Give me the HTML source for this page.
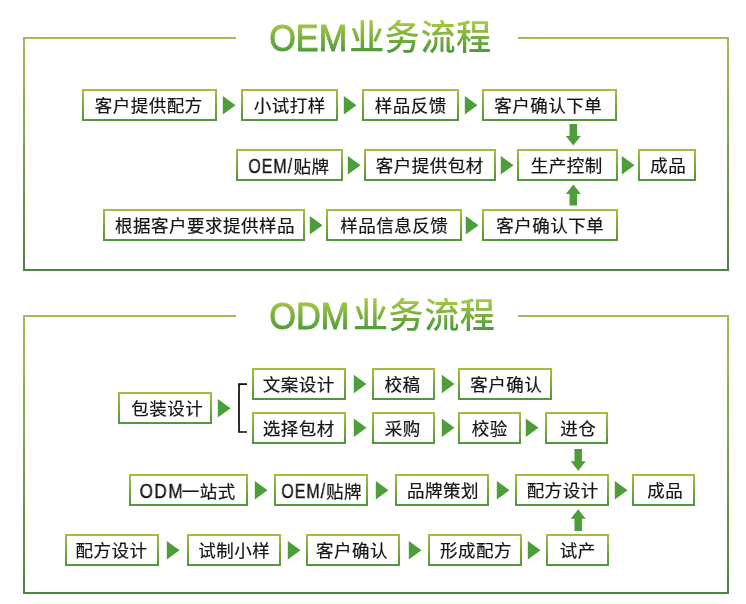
<!DOCTYPE html>
<html lang="zh-CN">
<head>
<meta charset="utf-8">
<title>OEM业务流程 / ODM业务流程</title>
<style>
html,body{margin:0;padding:0;background:#fff;}
.b,svg{will-change:transform;}
body{width:746px;height:604px;position:relative;overflow:hidden;
 font-family:"Liberation Sans","Noto Sans CJK SC",sans-serif;color:#1c1c1c;}
.frame{position:absolute;left:23px;width:706px;box-sizing:border-box;
 border:2px solid;border-image:linear-gradient(to bottom,#a5ba58,#4a8643) 1;}
.gap{position:absolute;background:#fff;left:236px;width:282px;height:6px;}
.b{position:absolute;box-sizing:border-box;height:32px;border:2px solid;
 border-image:linear-gradient(to bottom,#a3be40,#52963d) 1;background:#fff;
 font-size:17.5px;letter-spacing:0.5px;text-indent:0.5px;line-height:30.5px;font-weight:400;-webkit-text-stroke:0.2px #151515;color:#151515;text-align:center;white-space:nowrap;}
.b .s{position:relative;}
.b .l{display:inline-block;font-size:19.5px;line-height:31px;letter-spacing:1.2px;transform:scaleX(0.82);transform-origin:100% 50%;margin-left:-9.8px;-webkit-text-stroke:0.35px #151515;}
.b .l2{letter-spacing:1.7px;transform:scaleX(0.88);margin-left:-6.1px;margin-right:-2.8px;}
svg{position:absolute;left:0;top:0;pointer-events:none;}
svg text{font-family:"Liberation Sans","Noto Sans CJK SC",sans-serif;}
</style>
</head>
<body>
<div class="frame" style="top:37px;height:234px"></div>
<div class="gap" style="top:35px"></div>
<div class="frame" style="top:315px;height:279px"></div>
<div class="gap" style="top:313px"></div>
<!-- OEM section -->
<svg width="746" height="604" viewBox="0 0 746 604"><defs><linearGradient id="tg1" gradientUnits="userSpaceOnUse" x1="0" y1="22" x2="0" y2="52"><stop offset="0" stop-color="#a7c843"/><stop offset="1" stop-color="#4f9a3b"/></linearGradient><linearGradient id="tg2" gradientUnits="userSpaceOnUse" x1="0" y1="300" x2="0" y2="330"><stop offset="0" stop-color="#a7c843"/><stop offset="1" stop-color="#4f9a3b"/></linearGradient></defs><text y="50.5" font-size="35" font-weight="500" letter-spacing="0.6" fill="url(#tg1)"><tspan x="269.2" font-size="37" font-weight="400" letter-spacing="0" textLength="78" lengthAdjust="spacingAndGlyphs" stroke="url(#tg1)" stroke-width="0.9" stroke-linejoin="round">OEM</tspan><tspan x="349.2" dy="-1">业务流程</tspan></text></svg>
<div class="b" style="left:82px;top:89px;width:135px"><span class="s" style="left:-1px">客户提供配方</span></div>
<div class="b" style="left:241px;top:89px;width:97px">小试打样</div>
<div class="b" style="left:362px;top:89px;width:97px">样品反馈</div>
<div class="b" style="left:482px;top:89px;width:135px"><span class="s" style="left:-1.4px">客户确认下单</span></div>
<div class="b" style="left:236px;top:149px;width:107px"><span class="s" style="left:-1px"><span class="l">OEM/</span>贴牌</span></div>
<div class="b" style="left:364px;top:149px;width:132px"><span class="s" style="left:-0.6px">客户提供包材</span></div>
<div class="b" style="left:517px;top:149px;width:101px"><span class="s" style="left:-0.9px">生产控制</span></div>
<div class="b" style="left:638px;top:149px;width:58px"><span class="s" style="left:1px">成品</span></div>
<div class="b" style="left:103px;top:209px;width:202px"><span class="s" style="left:0.7px">根据客户要求提供样品</span></div>
<div class="b" style="left:326px;top:209px;width:136px">样品信息反馈</div>
<div class="b" style="left:482px;top:209px;width:136px">客户确认下单</div>
<!-- ODM section -->
<svg width="746" height="604" viewBox="0 0 746 604"><text y="328.8" font-size="35" font-weight="500" letter-spacing="0.6" fill="url(#tg2)"><tspan x="269.2" font-size="37" font-weight="400" letter-spacing="0" textLength="80.3" lengthAdjust="spacingAndGlyphs" stroke="url(#tg2)" stroke-width="0.9" stroke-linejoin="round">ODM</tspan><tspan x="353" dy="-1">业务流程</tspan></text></svg>
<div class="b" style="left:118px;top:392px;width:94px"><span class="s" style="left:2px">包装设计</span></div>
<div class="b" style="left:252px;top:368px;width:94px"><span class="s" style="left:-0.5px">文案设计</span></div>
<div class="b" style="left:372px;top:368px;width:63px"><span class="s" style="left:-1.3px">校稿</span></div>
<div class="b" style="left:458px;top:368px;width:94px"><span class="s" style="left:1px">客户确认</span></div>
<div class="b" style="left:252px;top:412px;width:94px"><span class="s" style="left:-0.5px">选择包材</span></div>
<div class="b" style="left:372px;top:412px;width:63px"><span class="s" style="left:-0.9px">采购</span></div>
<div class="b" style="left:458px;top:412px;width:63px">校验</div>
<div class="b" style="left:545px;top:412px;width:63px"><span class="s" style="left:1.5px">进仓</span></div>
<div class="b" style="left:129px;top:474px;width:119px"><span class="s" style="left:-1.2px"><span class="l l2">ODM</span>一站式</span></div>
<div class="b" style="left:274px;top:474px;width:94px"><span class="l">OEM/</span>贴牌</div>
<div class="b" style="left:395px;top:474px;width:94px"><span class="s" style="left:0.8px">品牌策划</span></div>
<div class="b" style="left:515px;top:474px;width:94px"><span class="s" style="left:0.6px">配方设计</span></div>
<div class="b" style="left:632px;top:474px;width:63px"><span class="s" style="left:1.6px">成品</span></div>
<div class="b" style="left:65px;top:534px;width:94px"><span class="s" style="left:-0.7px">配方设计</span></div>
<div class="b" style="left:187px;top:534px;width:94px">试制小样</div>
<div class="b" style="left:306px;top:534px;width:94px"><span class="s" style="left:-1.3px">客户确认</span></div>
<div class="b" style="left:428px;top:534px;width:94px"><span class="s" style="left:0.7px">形成配方</span></div>
<div class="b" style="left:546px;top:534px;width:63px">试产</div>
<!-- arrows and connectors -->
<svg width="746" height="604" viewBox="0 0 746 604">
<g fill="#4e9d3b">
<polygon points="569.55,124 577.05,124 577.05,136 580.8,136 573.3,145.5 565.8,136 569.55,136"/>
<polygon points="573.3,184.5 580.8,194 577.05,194 577.05,205.5 569.55,205.5 569.55,194 565.8,194"/>
<polygon points="574.45,449 581.95,449 581.95,461.2 585.7,461.2 578.2,470.7 570.7,461.2 574.45,461.2"/>
<polygon points="578.2,509.3 585.7,518.8 581.95,518.8 581.95,531 574.45,531 574.45,518.8 570.7,518.8"/>
<polygon points="222.8,96 235.5,105.3 222.8,114.6"/>
<polygon points="343.8,96 356.5,105.3 343.8,114.6"/>
<polygon points="464.8,96 477.5,105.3 464.8,114.6"/>
<polygon points="347.8,156 360.5,165.3 347.8,174.6"/>
<polygon points="500.8,156 513.5,165.3 500.8,174.6"/>
<polygon points="621.8,156 634.5,165.3 621.8,174.6"/>
<polygon points="309.8,216 322.5,225.3 309.8,234.6"/>
<polygon points="465.8,216 478.5,225.3 465.8,234.6"/>
<polygon points="217.8,399 230.5,408.3 217.8,417.6"/>
<polygon points="353.8,374.7 366.5,384 353.8,393.3"/>
<polygon points="441.8,374.7 454.5,384 441.8,393.3"/>
<polygon points="353.8,418.4 366.5,427.7 353.8,437"/>
<polygon points="441.8,418.4 454.5,427.7 441.8,437"/>
<polygon points="525.8,418.4 538.5,427.7 525.8,437"/>
<polygon points="254.8,481 267.5,490.3 254.8,499.6"/>
<polygon points="375.8,481 388.5,490.3 375.8,499.6"/>
<polygon points="496.8,481 509.5,490.3 496.8,499.6"/>
<polygon points="614.8,481 627.5,490.3 614.8,499.6"/>
<polygon points="166.8,541 179.5,550.3 166.8,559.6"/>
<polygon points="287.8,541 300.5,550.3 287.8,559.6"/>
<polygon points="408.8,541 421.5,550.3 408.8,559.6"/>
<polygon points="527.8,541 540.5,550.3 527.8,559.6"/>
</g>
<path d="M247,384.1 H239 V432 H247" fill="none" stroke="#0a0a0a" stroke-width="1.7"/>
</svg>
</body>
</html>
